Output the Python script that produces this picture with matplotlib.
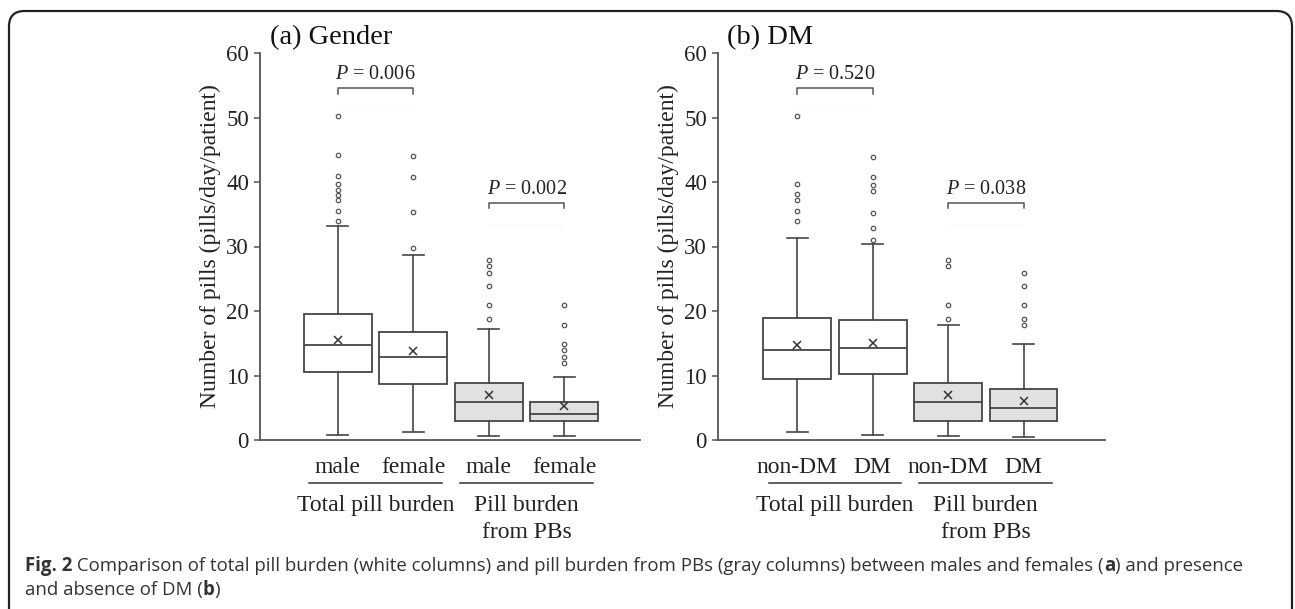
import matplotlib
matplotlib.use("Agg")
import matplotlib.pyplot as plt
from matplotlib.patches import FancyBboxPatch
from matplotlib.transforms import blended_transform_factory

# (a) Gender
a_labels = ["male", "female", "male", "female"]
a_q1 = [10.5, 8.7, 3.0, 3.0]
a_med = [14.7, 12.9, 5.9, 4.0]
a_q3 = [19.6, 16.8, 8.9, 5.9]
a_lo = [0.8, 1.2, 0.6, 0.6]
a_hi = [33.2, 28.7, 17.2, 9.8]
a_mean = [15.5, 13.8, 6.9, 5.3]
a_fliers = [[50.2, 44.2, 41.0, 39.7, 38.7, 38.0, 37.2, 35.5, 34.0],
            [29.8, 35.3, 40.8, 44.0],
            [18.7, 20.9, 23.9, 25.9, 26.9, 27.9],
            [11.9, 12.9, 13.9, 14.9, 17.9, 20.9]]
a_pvals = ["0.006", "0.002"]

# (b) DM
b_labels = ["non-DM", "DM", "non-DM", "DM"]
b_q1 = [9.5, 10.3, 3.0, 3.0]
b_med = [13.9, 14.2, 5.9, 5.0]
b_q3 = [18.9, 18.6, 8.9, 7.95]
b_lo = [1.2, 0.8, 0.6, 0.5]
b_hi = [31.3, 30.4, 17.9, 14.9]
b_mean = [14.8, 15.1, 6.9, 6.0]
b_fliers = [[50.2, 39.7, 38.1, 37.2, 35.5, 33.9],
            [43.9, 40.8, 39.6, 38.6, 35.2, 32.8, 31.0],
            [18.7, 20.9, 26.9, 27.9],
            [17.9, 18.7, 20.9, 23.9, 25.9]]
b_pvals = ["0.520", "0.038"]

bracket_y = [54.5, 36.7]
group_names = [["Total pill burden"], ["Pill burden", "from PBs"]]
box_faces = ["white", "white", "#e1e1e1", "#e1e1e1"]

SERIF = "Liberation Serif"
LINE = "#454545"
plt.rcParams["mathtext.fontset"] = "custom"
plt.rcParams["mathtext.rm"] = "Liberation Serif"
plt.rcParams["mathtext.it"] = "Liberation Serif:italic"

fig = plt.figure(figsize=(12.95, 6.09), dpi=100)
W, H = 1295, 609


def fig_axes(left, top, right, bottom):
    return fig.add_axes([left / W, 1 - bottom / H, (right - left) / W, (bottom - top) / H])


def panel(ax, title, title_x, labels, q1, med, q3, lo, hi, mean, fliers, pvals, xlim):
    stats = []
    for i in range(len(labels)):
        stats.append(dict(q1=q1[i], med=med[i], q3=q3[i], whislo=lo[i], whishi=hi[i],
                          mean=mean[i], fliers=fliers[i]))
    pos = [1, 2, 3, 4]
    bp = ax.bxp(stats, positions=pos, widths=0.9, capwidths=0.28, showmeans=True,
                patch_artist=True,
                boxprops=dict(edgecolor=LINE, linewidth=1.3),
                medianprops=dict(color=LINE, linewidth=1.3),
                whiskerprops=dict(color=LINE, linewidth=1.2),
                capprops=dict(color=LINE, linewidth=1.2),
                flierprops=dict(marker="o", markersize=3.2, markerfacecolor="none",
                                markeredgecolor="#555555", markeredgewidth=0.9),
                meanprops=dict(marker="x", markersize=6, markeredgecolor="#333333",
                               markeredgewidth=1.1))
    for patch, fc in zip(bp["boxes"], box_faces):
        patch.set_facecolor(fc)

    ax.set_xlim(*xlim)
    ax.set_ylim(0, 60)
    ax.set_yticks(range(0, 61, 10))
    ax.set_xticks([])
    for s in ["top", "right"]:
        ax.spines[s].set_visible(False)
    for s in ["left", "bottom"]:
        ax.spines[s].set_color("#555555")
        ax.spines[s].set_linewidth(1.3)
    ax.tick_params(axis="y", direction="out", length=4, width=1.1, color="#555555",
                   labelsize=16.5, labelcolor="#222222", pad=4)
    for t in ax.get_yticklabels():
        t.set_fontfamily(SERIF)
    ax.set_ylabel("Number of pills (pills/day/patient)", fontfamily=SERIF, fontsize=17,
                  color="#222222", labelpad=3.5)
    ax.text(title_x, 1.039, title, transform=ax.transAxes, fontfamily=SERIF, fontsize=20.5,
            color="#111111", va="center", ha="left")

    # significance brackets
    for k, (x1, x2) in enumerate([(1, 2), (3, 4)]):
        y = bracket_y[k]
        ax.plot([x1, x1, x2, x2], [y - 0.8, y, y, y - 0.8], color="#555555", lw=1.1,
                clip_on=False)
        ax.plot([x1, x2], [y - 3.2, y - 3.2], color="#f2f2f2", lw=0.8, ls=":", clip_on=False)
        ax.text((x1 + x2) / 2, y + 2.1, "$\\mathit{P}$ = " + pvals[k], ha="center",
                va="center", fontfamily=SERIF, fontsize=14.5, color="#222222")

    # category and group labels below the axis
    tr = blended_transform_factory(ax.transData, ax.transAxes)
    for x, lab in zip(pos, labels):
        ax.text(x, -0.070, lab, transform=tr, ha="center", va="center",
                fontfamily=SERIF, fontsize=17, color="#222222")
    for g, cx in enumerate([1.5, 3.5]):
        ax.plot([cx - 0.88, cx + 0.88], [-0.111, -0.111], transform=tr, color="#333333",
                lw=1.1, clip_on=False)
        for j, line in enumerate(group_names[g]):
            ax.text(cx, -0.168 - 0.07 * j, line, transform=tr, ha="center", va="center",
                    fontfamily=SERIF, fontsize=17, color="#222222")


ax_a = fig_axes(260, 53, 640, 440)
panel(ax_a, "(a) Gender", 0.026, a_labels, a_q1, a_med, a_q3, a_lo, a_hi, a_mean, a_fliers,
      a_pvals, (-0.03, 5.0))
ax_b = fig_axes(718, 53, 1105, 440)
panel(ax_b, "(b) DM", 0.023, b_labels, b_q1, b_med, b_q3, b_lo, b_hi, b_mean, b_fliers,
      b_pvals, (-0.05, 5.08))

# outer rounded frame (open at the bottom edge of the image)
frame = FancyBboxPatch((9 / W, -0.05), (1292 - 9) / W, (H - 11) / H + 0.05,
                       boxstyle="round,pad=0,rounding_size=0.012",
                       transform=fig.transFigure, fill=False, edgecolor="#222222",
                       linewidth=1.6, clip_on=False, mutation_aspect=W / H)
fig.add_artist(frame)

# caption with mixed bold runs
CAP = "Open Sans"
cap_lines = [
    [("Fig. 2", "bold"), (" Comparison of total pill burden (white columns) and pill burden from PBs "
                          "(gray columns) between males and females (", "normal"),
     ("a", "bold"), (") and presence", "normal")],
    [("and absence of DM (", "normal"), ("b", "bold"), (")", "normal")],
]
cap_y = [566, 590]
renderer = fig.canvas.get_renderer()
for runs, yy in zip(cap_lines, cap_y):
    x = 25
    for txt, wt in runs:
        t = fig.text(x / W, 1 - yy / H, txt, fontfamily=CAP, fontweight=wt, fontsize=13.4,
                     color="#333333", va="center", ha="left")
        x += t.get_window_extent(renderer).width

fig.savefig("out.png", dpi=100)
